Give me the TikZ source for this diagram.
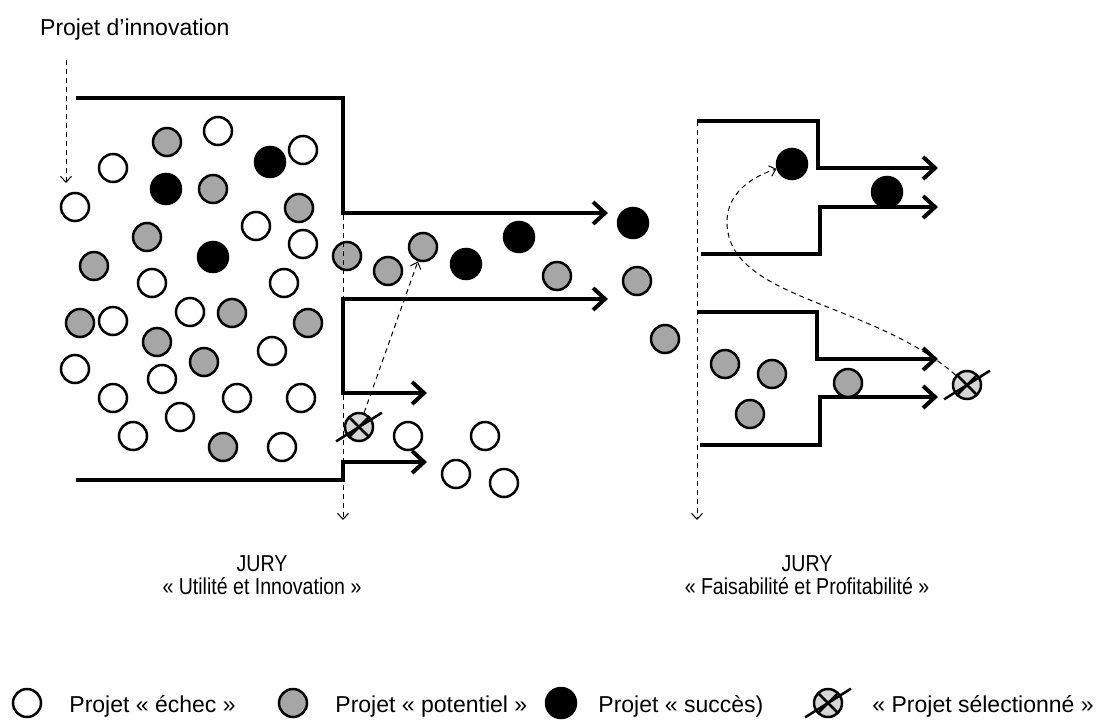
\documentclass[tikz,border=0pt]{standalone}
\usepackage{fontspec}
\setmainfont{Liberation Sans}
\newfontfamily\juryfont[FakeStretch=0.85]{Liberation Sans}
\usepackage{xcolor}
\definecolor{colorPotentiel}{RGB}{166,166,166}
\definecolor{colorSelection}{RGB}{214,214,214}
\usetikzlibrary{arrows.meta, positioning}
\tikzset{projet/.style={circle, draw, line width=2.5pt, minimum size=28pt, inner sep=0pt},
  echec/.style={projet, fill=white},
  potentiel/.style={projet, fill=colorPotentiel},
  succes/.style={projet, fill=black, minimum size=30pt},
  selection/.style={projet, fill=colorSelection,
    path picture={\draw[line width=2.5pt] (path picture bounding box.center) +(45:16pt) -- +(225:16pt) +(135:16pt) -- +(315:16pt);},
    append after command={(\tikzlastnode.center) +(212:27pt) edge[line width=2.5pt] +(32:27pt)}},
  wall/.style={line width=4pt, ->},
  flow/.style={line width=1pt, dash pattern=on 5pt off 4pt, -{Straight Barb[length=6pt, width=11pt]}},
  legend/.style={inner sep=0pt}}

\begin{document}
\begin{tikzpicture}[x=1pt, y=-1pt, >={Straight Barb[length=12pt, width=22pt]}, font=\fontsize{23}{24}\selectfont]
\useasboundingbox (0,0) rectangle (1099,720);
% first jury
\draw[wall] (76,98) -| (343,213) -- (608,213);
\draw[wall, <->] (427,393) -| (343,299) -- (608,299);
\draw[wall] (76,480) -| (343,462) -- (427,462);
% second jury
\draw[wall] (697,121) -| (818,168) -- (938,168);
\draw[wall] (701,254) -| (820,207) -- (938,207);
\draw[wall] (697,312) -| (817,359) -- (938,359);
\draw[wall] (700,445) -| (820,397) -- (938,397);
% projets "echec"
\node[echec] (e1) at (218,131) {};
\node[echec] (e2) at (113,168) {};
\node[echec] (e3) at (303,150) {};
\node[echec] (e4) at (75,207) {};
\node[echec] (e5) at (256,226) {};
\node[echec] (e6) at (303,244) {};
\node[echec] (e7) at (152,283) {};
\node[echec] (e8) at (284,283) {};
\node[echec] (e9) at (190,312) {};
\node[echec] (e10) at (113,321) {};
\node[echec] (e11) at (272,351) {};
\node[echec] (e12) at (75,369) {};
\node[echec] (e13) at (162,379) {};
\node[echec] (e14) at (113,398) {};
\node[echec] (e15) at (237,398) {};
\node[echec] (e16) at (301,398) {};
\node[echec] (e17) at (180,417) {};
\node[echec] (e18) at (133,436) {};
\node[echec] (e19) at (282,447) {};
\node[echec] (e20) at (408,436) {};
\node[echec] (e21) at (485,436) {};
\node[echec] (e22) at (456,474) {};
\node[echec] (e23) at (504,483) {};
% projets "potentiel"
\node[potentiel] (p1) at (167,142) {};
\node[potentiel] (p2) at (213,189) {};
\node[potentiel] (p3) at (299,208) {};
\node[potentiel] (p4) at (147,237) {};
\node[potentiel] (p5) at (94,266) {};
\node[potentiel] (p6) at (232,313) {};
\node[potentiel] (p7) at (80,323) {};
\node[potentiel] (p8) at (308,323) {};
\node[potentiel] (p9) at (157,342) {};
\node[potentiel] (p10) at (204,362) {};
\node[potentiel] (p11) at (223,447) {};
\node[potentiel] (p12) at (347,256) {};
\node[potentiel] (p13) at (388,271) {};
\node[potentiel] (p14) at (423,247) {};
\node[potentiel] (p15) at (557,276) {};
\node[potentiel] (p16) at (637,281) {};
\node[potentiel] (p17) at (665,339) {};
\node[potentiel] (p18) at (725,364) {};
\node[potentiel] (p19) at (772,374) {};
\node[potentiel] (p20) at (750,414) {};
\node[potentiel] (p21) at (848,383) {};
% projets "succes"
\node[succes] (s1) at (270,162) {};
\node[succes] (s2) at (166,189) {};
\node[succes] (s3) at (213,257) {};
\node[succes] (s4) at (466,264) {};
\node[succes] (s5) at (519,237) {};
\node[succes] (s6) at (633,223) {};
\node[succes] (s7) at (792,164) {};
\node[succes] (s8) at (887,192) {};
% projets selectionnes
\node[selection] (sel1) at (359,427) {};
\node[selection] (sel2) at (967,385) {};
% entree et jurys
\node[legend, anchor=base west] (innov) at (40,35) {Projet d’innovation};
\coordinate (innov-top) at (66,60);
\coordinate (innov-bot) at (66,183);
\coordinate (j1-top) at (343,215);
\coordinate (j1-bot) at (343,520);
\coordinate (j2-top) at (697,121);
\coordinate (j2-bot) at (697,520);
\draw[flow] (innov-top) -- (innov-bot);
\draw[flow] (j1-top) -- (j1-bot);
\draw[flow] (j2-top) -- (j2-bot);
\draw[flow] (sel1) -- (p14);
\draw[flow] (sel2) .. controls (870,300) and (725,300) .. (727,220) .. controls (728,195) and (748,178) .. (s7);
\node[align=center, font=\juryfont\fontsize{23}{23}\selectfont] (jury1) at (262,575) {JURY\\« Utilité et Innovation »};
\node[align=center, font=\juryfont\fontsize{23}{23}\selectfont] (jury2) at (807,575) {JURY\\« Faisabilité et Profitabilité »};
% legende
\node[echec] (leg-e) at (27,703) {};
\node[potentiel] (leg-p) at (293,703) {};
\node[succes] (leg-s) at (561,703) {};
\node[selection] (leg-sel) at (828,703) {};
\node[legend, base right=27pt of leg-e, yshift=-9pt] (txt-e) {Projet « échec »};
\node[legend, base right=27pt of leg-p, yshift=-9pt] (txt-p) {Projet « potentiel »};
\node[legend, base right=21pt of leg-s, yshift=-9pt] (txt-s) {Projet « succès)};
\node[legend, base right=29pt of leg-sel, yshift=-9pt] (txt-sel) {« Projet sélectionné »};
\end{tikzpicture}
\end{document}
